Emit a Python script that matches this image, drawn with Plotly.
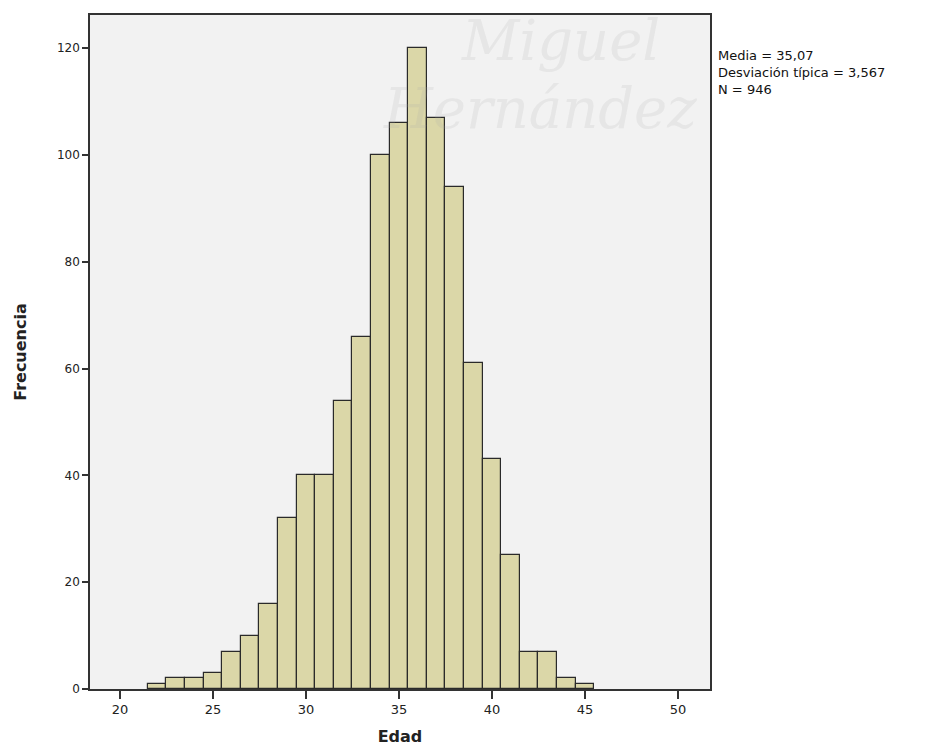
import plotly.graph_objects as go

edad = [22, 23, 24, 25, 26, 27, 28, 29, 30, 31, 32, 33, 34, 35, 36, 37, 38, 39, 40, 41, 42, 43, 44, 45]
frecuencia = [1, 2, 2, 3, 7, 10, 16, 32, 40, 40, 54, 66, 100, 106, 120, 107, 94, 61, 43, 25, 7, 7, 2, 1]
x_ticks = [20, 25, 30, 35, 40, 45, 50]
y_ticks = [0, 20, 40, 60, 80, 100, 120]
stats_text = "Media = 35,07<br>Desviación típica = 3,567<br>N = 946"

W, H = 931, 754
L, R, T, B = 90, 221, 15, 65
PW, PH = W - L - R, H - T - B


def px(x):
    return (x - L) / PW


def py(y):
    return (H - B - y) / PH


fig = go.Figure()
fig.add_trace(go.Bar(
    x=edad, y=frecuencia, width=1,
    marker=dict(color="#dbd7a8", line=dict(color="#2a2a2a", width=1.2)),
    hoverinfo="x+y",
))

# faint watermark (university logo text)
fig.add_annotation(text="<i>Miguel</i>", xref="paper", yref="paper",
                   x=px(560), y=py(40), showarrow=False,
                   font=dict(family="DejaVu Serif", size=56, color="rgba(170,170,170,0.16)"),
                   xanchor="center", yanchor="middle")
fig.add_annotation(text="<i>Hernández</i>", xref="paper", yref="paper",
                   x=px(540), y=py(108), showarrow=False,
                   font=dict(family="DejaVu Serif", size=56, color="rgba(170,170,170,0.16)"),
                   xanchor="center", yanchor="middle")

fig.add_annotation(text=stats_text, xref="paper", yref="paper",
                   x=px(716), y=py(46), showarrow=False, align="left",
                   xanchor="left", yanchor="top",
                   font=dict(family="DejaVu Sans", size=13, color="#111111"))

fig.update_layout(
    width=W, height=H,
    margin=dict(l=L, r=R, t=T, b=B),
    paper_bgcolor="white", plot_bgcolor="#f2f2f2",
    showlegend=False, bargap=0,
    font=dict(family="DejaVu Sans", color="#222222"),
)
fig.update_xaxes(range=[18.39, 51.72], tickvals=x_ticks, ticks="outside", ticklen=8,
                 tickcolor="#333333", tickwidth=1.5, showgrid=False, zeroline=False,
                 showline=True, linecolor="#333333", linewidth=1.5, mirror=True,
                 tickfont=dict(size=13, color="#222222"),
                 title=dict(text="<b>Edad</b>", font=dict(size=16, color="#222222"), standoff=14))
fig.update_yaxes(range=[0, 126.2], tickvals=y_ticks, ticks="outside", ticklen=6,
                 tickcolor="#333333", tickwidth=1.5, showgrid=False, zeroline=False,
                 showline=True, linecolor="#333333", linewidth=1.5, mirror=True,
                 tickfont=dict(size=12, color="#222222"),
                 title=dict(text="<b>Frecuencia</b>", font=dict(size=16, color="#222222"), standoff=26))

fig.write_html("out.html")
